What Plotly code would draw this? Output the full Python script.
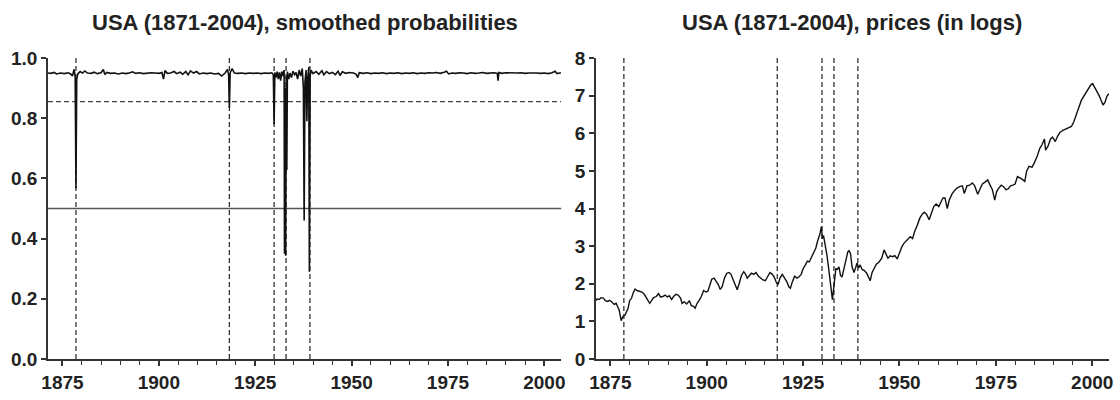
import plotly.graph_objects as go
from plotly.subplots import make_subplots

# Smoothed probabilities (left panel)
prob_years = [
    1871.25, 1872.0, 1872.8, 1873.5, 1874.5, 1875.5, 1876.5, 1877.2, 1877.6, 1878.0,
    1878.3, 1878.5, 1878.7, 1879.0, 1879.6, 1880.2, 1880.8, 1881.5, 1882.5, 1883.2,
    1884.0, 1885.0, 1885.6, 1886.0, 1886.5, 1887.5, 1888.5, 1889.5, 1890.5, 1891.5,
    1892.5, 1893.2, 1894.0, 1895.0, 1896.0, 1897.0, 1898.0, 1899.0, 1900.0, 1900.8,
    1901.2, 1901.6, 1902.2, 1903.0, 1904.0, 1904.6, 1905.5, 1906.2, 1907.0, 1907.6,
    1908.2, 1909.0, 1909.8, 1910.5, 1911.5, 1912.5, 1913.5, 1914.5, 1915.5, 1916.3,
    1917.2, 1917.8, 1918.1, 1918.3, 1918.5, 1919.0, 1919.6, 1920.5, 1921.5, 1922.5,
    1923.5, 1924.5, 1925.5, 1926.5, 1927.5, 1928.5, 1929.3, 1929.7, 1929.9, 1930.1,
    1930.4, 1930.7, 1931.0, 1931.3, 1931.6, 1931.9, 1932.2, 1932.5, 1932.6, 1932.75,
    1932.9, 1933.05, 1933.2, 1933.35, 1933.7, 1934.0, 1934.4, 1934.8, 1935.2, 1935.6,
    1936.0, 1936.4, 1936.8, 1937.2, 1937.5, 1937.7, 1937.9, 1938.2, 1938.4, 1938.6,
    1938.9, 1939.05, 1939.25, 1939.5, 1940.0, 1940.8, 1941.5, 1942.3, 1942.8, 1943.5,
    1944.2, 1945.0, 1945.8, 1946.5, 1947.0, 1947.6, 1948.5, 1949.5, 1950.5, 1951.2,
    1951.6, 1952.0, 1953.0, 1954.0, 1955.0, 1956.0, 1957.0, 1958.0, 1959.0, 1960.0,
    1961.0, 1962.0, 1963.0, 1964.0, 1965.0, 1966.0, 1967.0, 1968.0, 1969.0, 1970.0,
    1971.0, 1972.0, 1973.0, 1974.0, 1974.6, 1975.2, 1976.0, 1977.0, 1978.0, 1979.0,
    1980.0, 1981.0, 1982.0, 1983.0, 1984.0, 1985.0, 1986.0, 1987.0, 1987.8, 1988.0,
    1988.2, 1989.0, 1990.0, 1991.0, 1992.0, 1993.0, 1994.0, 1995.0, 1996.0, 1997.0,
    1998.0, 1999.0, 2000.0, 2001.0, 2002.0, 2002.8, 2003.3, 2004.3,
]
prob_values = [
    0.950, 0.949, 0.952, 0.947, 0.950, 0.948, 0.951, 0.946, 0.940, 0.962,
    0.940, 0.567, 0.930, 0.948, 0.955, 0.950, 0.957, 0.950, 0.949, 0.953,
    0.948, 0.951, 0.962, 0.945, 0.952, 0.949, 0.950, 0.947, 0.950, 0.948,
    0.951, 0.954, 0.949, 0.951, 0.948, 0.950, 0.951, 0.950, 0.949, 0.952,
    0.930, 0.958, 0.949, 0.950, 0.955, 0.948, 0.953, 0.946, 0.955, 0.944,
    0.957, 0.950, 0.955, 0.947, 0.950, 0.948, 0.950, 0.947, 0.949, 0.940,
    0.950, 0.962, 0.945, 0.835, 0.950, 0.965, 0.950, 0.949, 0.950, 0.948,
    0.950, 0.949, 0.950, 0.948, 0.950, 0.949, 0.951, 0.945, 0.780, 0.952,
    0.935, 0.955, 0.930, 0.952, 0.925, 0.955, 0.940, 0.960, 0.350, 0.900,
    0.343, 0.940, 0.628, 0.955, 0.930, 0.950, 0.935, 0.956, 0.945, 0.952,
    0.930, 0.960, 0.940, 0.965, 0.900, 0.460, 0.920, 0.960, 0.790, 0.930,
    0.970, 0.290, 0.940, 0.960, 0.948, 0.955, 0.946, 0.958, 0.944, 0.955,
    0.948, 0.952, 0.945, 0.956, 0.942, 0.954, 0.949, 0.952, 0.950, 0.946,
    0.935, 0.951, 0.949, 0.951, 0.948, 0.950, 0.949, 0.951, 0.948, 0.950,
    0.949, 0.951, 0.948, 0.950, 0.949, 0.951, 0.948, 0.950, 0.949, 0.951,
    0.950, 0.952, 0.949, 0.953, 0.956, 0.947, 0.950, 0.949, 0.951, 0.950,
    0.948, 0.951, 0.949, 0.950, 0.952, 0.949, 0.950, 0.951, 0.949, 0.925,
    0.952, 0.949, 0.951, 0.950, 0.949, 0.950, 0.951, 0.949, 0.950, 0.951,
    0.950, 0.949, 0.950, 0.948, 0.951, 0.956, 0.948, 0.951,
]

# Prices in logs (right panel)
price_years = [
    1871.25, 1871.6, 1872.1, 1872.6, 1873.2, 1873.7, 1874.3, 1874.8, 1875.3, 1876.0,
    1876.5, 1876.9, 1877.3, 1877.8, 1878.2, 1878.8, 1879.2, 1879.6, 1880.0, 1880.5,
    1880.9, 1881.4, 1881.9, 1882.6, 1883.2, 1883.8, 1884.3, 1884.8, 1885.2, 1885.7,
    1886.2, 1886.9, 1887.5, 1888.0, 1888.6, 1889.2, 1889.8, 1890.3, 1890.9, 1891.4,
    1892.0, 1892.6, 1893.2, 1893.6, 1894.2, 1894.8, 1895.5, 1896.0, 1896.6, 1897.0,
    1897.5, 1898.0, 1898.6, 1899.2, 1899.8, 1900.3, 1900.8, 1901.3, 1901.9, 1902.4,
    1903.0, 1903.5, 1904.0, 1904.6, 1905.2, 1905.8, 1906.3, 1906.8, 1907.4, 1907.9,
    1908.4, 1909.0, 1909.6, 1910.1, 1910.5, 1911.0, 1911.6, 1912.2, 1912.8, 1913.4,
    1914.0, 1914.6, 1915.2, 1915.8, 1916.4, 1917.0, 1917.5, 1918.0, 1918.5, 1919.0,
    1919.6, 1920.2, 1920.8, 1921.3, 1921.7, 1922.2, 1922.8, 1923.4, 1923.9, 1924.5,
    1925.0, 1925.6, 1926.1, 1926.6, 1927.2, 1927.8, 1928.3, 1928.8, 1929.3, 1929.75,
    1930.0, 1930.3, 1930.7, 1931.2, 1931.7, 1932.1, 1932.4, 1932.6, 1932.9, 1933.2,
    1933.5, 1933.9, 1934.3, 1934.7, 1935.1, 1935.6, 1936.1, 1936.6, 1936.9, 1937.3,
    1937.7, 1938.2, 1938.6, 1939.0, 1939.4, 1939.8, 1940.3, 1940.9, 1941.5, 1942.0,
    1942.4, 1942.9, 1943.4, 1944.0, 1944.7, 1945.4, 1946.0, 1946.5, 1947.0, 1947.6,
    1948.2, 1948.8, 1949.4, 1950.0, 1950.6, 1951.2, 1952.0, 1952.8, 1953.4, 1953.9,
    1954.6, 1955.3, 1955.9, 1956.4, 1957.0, 1957.7, 1958.3, 1958.9, 1959.5, 1960.2,
    1960.8, 1961.3, 1961.8, 1962.4, 1962.9, 1963.6, 1964.3, 1965.0, 1965.6, 1966.3,
    1966.8, 1967.5, 1968.2, 1968.9, 1969.5, 1970.3, 1970.9, 1971.5, 1972.2, 1972.9,
    1973.5, 1974.1, 1974.7, 1975.2, 1975.8, 1976.4, 1977.0, 1977.6, 1978.2, 1978.8,
    1979.4, 1980.0, 1980.6, 1981.2, 1981.8, 1982.5, 1983.0, 1983.6, 1984.4, 1985.0,
    1985.7, 1986.4, 1987.0, 1987.6, 1987.9, 1988.5, 1989.2, 1989.7, 1990.4, 1991.0,
    1991.6, 1992.4, 1993.2, 1994.0, 1994.6, 1995.2, 1995.8, 1996.5, 1997.2, 1997.8,
    1998.5, 1999.0, 1999.6, 2000.1, 2000.7, 2001.2, 2001.8, 2002.4, 2002.8, 2003.3,
    2003.8, 2004.3,
]
price_values = [
    1.55, 1.60, 1.58, 1.63, 1.62, 1.55, 1.53, 1.56, 1.52, 1.45,
    1.48, 1.38, 1.30, 1.02, 1.12, 1.17, 1.25, 1.35, 1.55, 1.62,
    1.75, 1.86, 1.82, 1.80, 1.78, 1.72, 1.62, 1.52, 1.48, 1.55,
    1.63, 1.66, 1.74, 1.65, 1.66, 1.70, 1.65, 1.68, 1.58, 1.66,
    1.72, 1.70, 1.62, 1.48, 1.52, 1.46, 1.55, 1.42, 1.40, 1.35,
    1.48, 1.55, 1.66, 1.82, 1.78, 1.80, 1.95, 2.12, 2.15, 2.08,
    1.98, 1.85, 1.92, 2.15, 2.28, 2.30, 2.25, 2.12, 1.95, 1.84,
    2.00, 2.22, 2.32, 2.25, 2.15, 2.22, 2.28, 2.25, 2.30, 2.20,
    2.15, 2.10, 2.08, 2.20, 2.30, 2.25, 2.18, 2.05, 1.98, 2.15,
    2.25, 2.15, 2.05, 1.92, 1.88, 2.05, 2.20, 2.15, 2.18, 2.25,
    2.40, 2.50, 2.60, 2.58, 2.72, 2.85, 2.95, 3.15, 3.30, 3.52,
    3.20, 3.28, 3.05, 2.75, 2.35, 2.00, 1.75, 1.58, 1.85, 2.15,
    2.40, 2.38, 2.45, 2.22, 2.18, 2.40, 2.65, 2.85, 2.88, 2.80,
    2.45, 2.30, 2.42, 2.55, 2.42, 2.50, 2.38, 2.35, 2.28, 2.18,
    2.08, 2.30, 2.40, 2.52, 2.58, 2.68, 2.90, 2.78, 2.68, 2.74,
    2.72, 2.75, 2.66, 2.82, 2.98, 3.08, 3.18, 3.25, 3.20, 3.38,
    3.55, 3.75, 3.85, 3.90, 3.85, 3.70, 3.88, 4.05, 4.12, 4.05,
    4.18, 4.28, 4.28, 4.00, 4.22, 4.38, 4.48, 4.55, 4.58, 4.60,
    4.40, 4.60, 4.62, 4.68, 4.60, 4.38, 4.52, 4.65, 4.70, 4.76,
    4.62, 4.50, 4.22, 4.45, 4.55, 4.62, 4.58, 4.50, 4.52, 4.60,
    4.62, 4.65, 4.85, 4.82, 4.78, 4.72, 5.00, 5.12, 5.10, 5.22,
    5.38, 5.60, 5.70, 5.85, 5.55, 5.65, 5.85, 5.90, 5.78, 5.92,
    6.02, 6.08, 6.12, 6.15, 6.18, 6.30, 6.50, 6.68, 6.88, 6.98,
    7.10, 7.20, 7.28, 7.32, 7.22, 7.10, 7.00, 6.85, 6.75, 6.82,
    6.98, 7.05,
]

# Break dates (vertical dashed lines) and reference levels
break_dates = [1878.5, 1918.3, 1929.9, 1933.0, 1939.2]
threshold_level = 0.855
half_level = 0.5

titles = ["USA (1871-2004), smoothed probabilities", "USA (1871-2004), prices (in logs)"]

ink = "#222222"
font_family = "Liberation Sans, Arial, sans-serif"
left_dom = [0, 0.4836]
right_dom = [0.5164, 1]

fig = make_subplots(rows=1, cols=2)
fig.add_trace(go.Scatter(x=prob_years, y=prob_values, mode="lines",
                         line=dict(color="#111111", width=1.6)), row=1, col=1)
fig.add_trace(go.Scatter(x=price_years, y=price_values, mode="lines",
                         line=dict(color="#111111", width=1.4)), row=1, col=2)

for col in (1, 2):
    for b in break_dates:
        fig.add_vline(x=b, line=dict(color="#333333", width=1.3, dash="5px,3px"),
                      layer="below", row=1, col=col)

fig.add_hline(y=threshold_level, line=dict(color="#444444", width=1.3, dash="5px,3px"),
              layer="below", row=1, col=1)
fig.add_hline(y=half_level, line=dict(color="#555555", width=1.5),
              layer="below", row=1, col=1)

tickfont = dict(family=font_family, size=19, color=ink, weight="bold")
xax = dict(range=[1871.25, 2004.35], tick0=1875, dtick=25, ticks="outside",
           ticklen=5, tickwidth=1.5, tickcolor="#333333", showline=True,
           linecolor="#333333", linewidth=1.5, showgrid=False, zeroline=False,
           tickfont=tickfont,
           minor=dict(tick0=1875, dtick=5, ticks="outside", ticklen=4,
                      tickwidth=1.2, tickcolor="#333333", showgrid=False))
yax = dict(ticks="outside", ticklen=5, tickwidth=1.5, tickcolor="#333333",
           showline=True, linecolor="#333333", linewidth=1.5, showgrid=False,
           zeroline=False, tickfont=tickfont)

fig.update_layout(
    xaxis=dict(xax, domain=left_dom),
    xaxis2=dict(xax, domain=right_dom),
    yaxis=dict(yax, range=[0, 1], dtick=0.2, tickformat=".1f"),
    yaxis2=dict(yax, range=[0, 8], dtick=1),
    width=1120, height=400,
    margin=dict(l=48, r=7, t=58, b=33),
    paper_bgcolor="white", plot_bgcolor="white",
    showlegend=False,
    font=dict(family=font_family, color=ink),
)

for t, dom in zip(titles, (left_dom, right_dom)):
    fig.add_annotation(text=t, x=(dom[0] + dom[1]) / 2, y=1, xref="paper", yref="paper",
                       xanchor="center", yanchor="middle", yshift=36, showarrow=False,
                       font=dict(family=font_family, size=22, color=ink, weight="bold"))

# remove the default page margin so the figure sits at the window's top-left corner
fig.write_html("out.html", config={"displayModeBar": False},
               post_script="document.body.style.margin='0';document.body.style.overflow='hidden';")
